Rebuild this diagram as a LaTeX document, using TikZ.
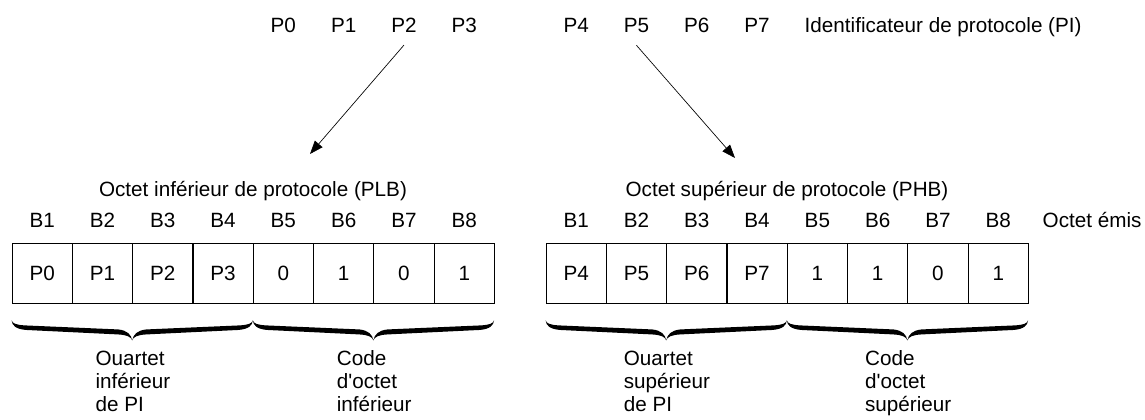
\documentclass[tikz,border=0pt]{standalone}
\usepackage{fontspec}
\setmainfont{Liberation Sans}
\usetikzlibrary{calc,positioning,arrows.meta}

\begin{document}
\begin{tikzpicture}[x=0.75pt,y=0.75pt,
        every node/.style={font=\fontsize{15.5}{17.3}\selectfont},
        etiquette/.style={anchor=base},
        cellule/.style={draw,line width=0.6pt,minimum width=45.2pt,minimum height=45pt,inner sep=0pt},
        legende/.style={align=left,anchor=north},
        fleche/.style={-{Triangle[length=10pt,width=7.5pt]},line width=0.5pt},
        accolade/.pic={
            \fill (0,0) .. controls (1,-3) and (4,-4.5) .. (14,-5) -- (106.6,-9)
                .. controls (115.6,-10) and (119.6,-14) .. (120.6,-20)
                .. controls (121.6,-14) and (125.6,-10) .. (134.6,-9) -- (227.2,-5)
                .. controls (237.2,-4.5) and (240.2,-3) .. (241.2,0)
                .. controls (240.7,-5) and (237.2,-8.5) .. (227.2,-9.5) -- (134.6,-14)
                .. controls (125.6,-14.5) and (121.6,-16.5) .. (120.6,-20)
                .. controls (119.6,-16.5) and (115.6,-14.5) .. (106.6,-14) -- (14,-9.5)
                .. controls (4,-8.5) and (0.5,-5) .. (0,0) -- cycle;
        }]
            \useasboundingbox (0,0) rectangle (1145,419);

            \foreach \txt [count=\i] in {P0,P1,P2,P3,0,1,0,1}{
                \node[cellule] (g\i) at ({12+60.3*(\i-0.5)},145.5) {\txt};
                \node[etiquette] (bg\i) at ({12+60.3*(\i-0.5)},191.6) {B\i};
            }
            \foreach \txt [count=\i] in {P4,P5,P6,P7,1,1,0,1}{
                \node[cellule] (d\i) at ({546+60.3*(\i-0.5)},145.5) {\txt};
                \node[etiquette] (bd\i) at ({546+60.3*(\i-0.5)},191.6) {B\i};
            }

            \foreach \txt [count=\i from 5] in {P0,P1,P2,P3}
                \node[etiquette] (h\txt) at (g\i |- 0,386.6) {\txt};
            \foreach \txt [count=\i] in {P4,P5,P6,P7}
                \node[etiquette] (h\txt) at (d\i |- 0,386.6) {\txt};
            \node[anchor=base west] (pi) at (800,386.6) {Identificateur de protocole (PI)};

            \node[etiquette] (plb) at (253,222.6) {Octet inférieur de protocole (PLB)};
            \node[etiquette] (phb) at (787,222.6) {Octet supérieur de protocole (PHB)};
            \node[anchor=base west] (emis) at (1038,191.6) {Octet émis};

            \coordinate (pointeG) at (310,265);
            \coordinate (pointeD) at (735,261);
            \draw[fleche] ([yshift=-6pt]hP2.south) -- (pointeG);
            \draw[fleche] ([yshift=-6pt]hP5.south) -- (pointeD);

            \pic at ([yshift=-12.4pt]g1.south west) {accolade};
            \pic at ([yshift=-12.4pt]g5.south west) {accolade};
            \pic at ([yshift=-12.4pt]d1.south west) {accolade};
            \pic at ([yshift=-12.4pt]d5.south west) {accolade};

            \node[legende] (qG) at ($(g2.south east)+(0,-42)$) {Ouartet\\inférieur\\de PI};
            \node[legende] (cG) at ($(g6.south east)+(0,-42)$) {Code\\d\textquotesingle octet\\inférieur};
            \node[legende] (qD) at ($(d2.south east)+(0,-42)$) {Ouartet\\supérieur\\de PI};
            \node[legende] (cD) at ($(d6.south east)+(0,-42)$) {Code\\d\textquotesingle octet\\supérieur};
        \end{tikzpicture}
\end{document}
